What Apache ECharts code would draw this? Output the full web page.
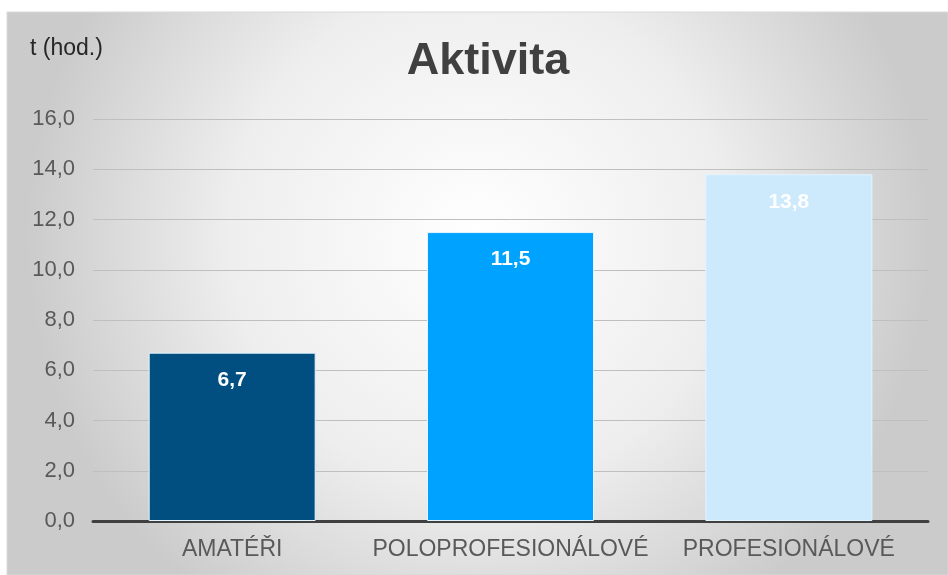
<!DOCTYPE html>
<html>
<head>
    <title>Aktivita</title>
    <meta charset="utf-8">
    <script type="text/javascript" src="https://cdn.jsdelivr.net/npm/echarts@6/dist/echarts.min.js"></script>
    <style>
        body { margin: 0; background: #fff; }
    </style>
</head>
<body>
<div id="chartmain" style="width:948px; height:575px;"></div>

<script type="text/javascript">
    // data
    var categories = ['AMATÉŘI', 'POLOPROFESIONÁLOVÉ', 'PROFESIONÁLOVÉ'];
    var hours = [6.7, 11.5, 13.8];
    var barColors = ['#004f80', '#00a2ff', '#cdeafd'];

    var font = '"Liberation Sans", Arial, sans-serif';

    var option = {
        backgroundColor: '#ffffff',
        graphic: [{
            type: 'rect',
            z: -10,
            silent: true,
            shape: { x: 7, y: 12, width: 941, height: 563 },
            style: {
                fill: {
                    type: 'radial', x: 0.5, y: 0.4, r: 0.8,
                    colorStops: [
                        { offset: 0, color: '#ffffff' },
                        { offset: 0.55, color: '#eeeeee' },
                        { offset: 1, color: '#cbcbcb' }
                    ]
                },
                stroke: '#d9d9d9',
                lineWidth: 1
            }
        }, {
            type: 'text',
            left: 30,
            top: 37,
            style: { text: 't (hod.)', fill: '#262626', font: '23px ' + font }
        }],
        title: {
            text: 'Aktivita',
            left: 483,
            textAlign: 'center',
            top: 34,
            textStyle: { color: '#404040', fontSize: 45, fontWeight: 'bold', fontFamily: font }
        },
        grid: { left: 93, right: 20, top: 119, bottom: 54 },
        xAxis: {
            type: 'category',
            data: categories,
            axisLine: { lineStyle: { color: '#404040', width: 3 } },
            axisTick: { show: false },
            axisLabel: {
                interval: 0,
                hideOverlap: false,
                color: '#595959', fontSize: 23, fontFamily: font, margin: 17
            }
        },
        yAxis: {
            type: 'value',
            min: 0,
            max: 16,
            interval: 2,
            axisLine: { show: false },
            axisTick: { show: false },
            axisLabel: {
                color: '#595959', fontSize: 22, fontFamily: font, margin: 18,
                formatter: function (v) { return v.toFixed(1).replace('.', ','); }
            },
            splitLine: { lineStyle: { color: '#bfbfbf', width: 1 } }
        },
        series: [{
            type: 'bar',
            barWidth: '60%',
            data: hours.map(function (v, i) {
                return { value: v, itemStyle: { color: barColors[i] } };
            }),
            itemStyle: { borderColor: '#e4f4ff', borderWidth: 1 },
            label: {
                show: true,
                position: 'insideTop',
                distance: 17,
                color: '#ffffff',
                fontSize: 21,
                fontWeight: 'bold',
                fontFamily: font,
                formatter: function (p) { return p.value.toFixed(1).replace('.', ','); }
            }
        }]
    };
    var myChart = echarts.init(document.getElementById('chartmain'));
    myChart.setOption(option);
</script>
</body>
</html>
